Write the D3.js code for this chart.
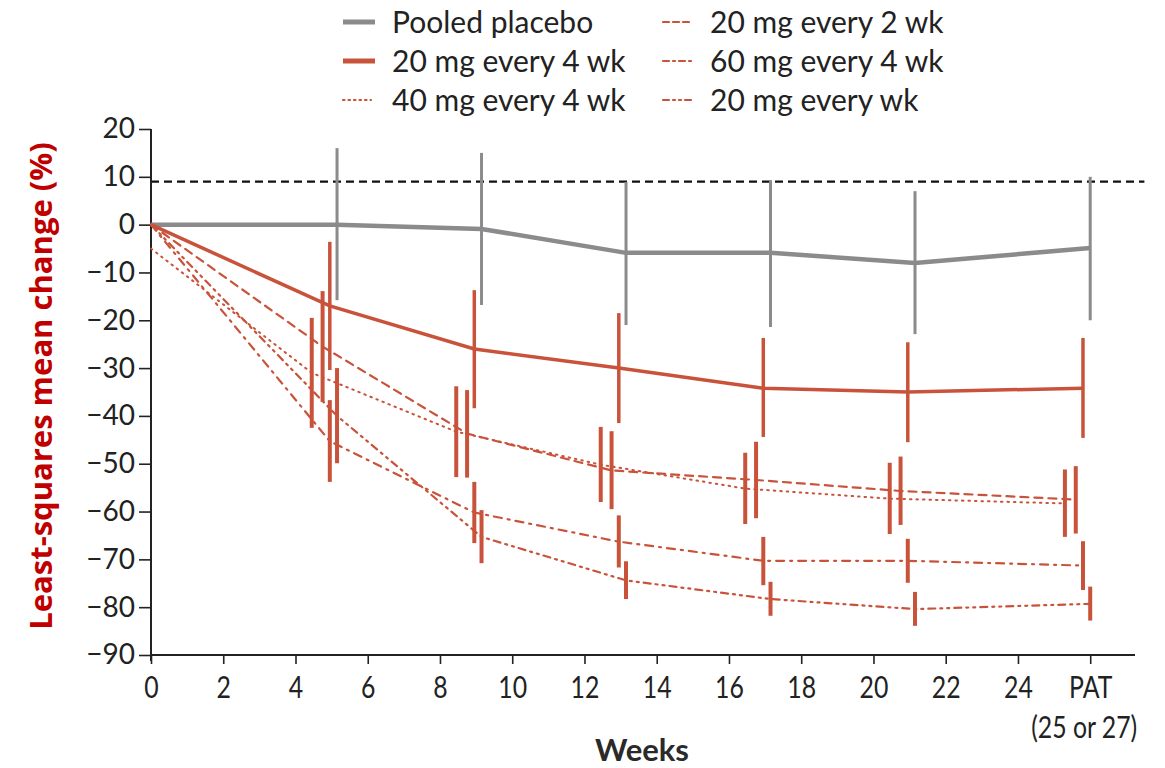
<!DOCTYPE html>
<html>
<head>
<meta charset="utf-8">
<script src="https://cdn.jsdelivr.net/npm/d3@7"></script>
<style>
  body { margin: 0; background: #fff; }
  svg { display: block; }
</style>
</head>
<body>
<svg width="1165" height="768"></svg>
<script>
// visit weeks (PAT plotted just right of week 25)
var weeks = [0, 5, 9, 13, 17, 21, 25.85];
var xTicks = [0, 2, 4, 6, 8, 10, 12, 14, 16, 18, 20, 22, 24, 26];
var xTickLabels = ["0", "2", "4", "6", "8", "10", "12", "14", "16", "18", "20", "22", "24", "PAT"];
var yTicks = [20, 10, 0, -10, -20, -30, -40, -50, -60, -70, -80, -90];
var refLine = 9;

var seriesNames = ["Pooled placebo", "20 mg every 4 wk", "40 mg every 4 wk",
                   "20 mg every 2 wk", "60 mg every 4 wk", "20 mg every wk"];

var placeboMean = [0, 0, -0.9, -5.9, -5.9, -8, -4.9];
var placeboLow  = [null, -15.8, -16.8, -21, -21.4, -22.9, -20];
var placeboHigh = [null, 16, 15, 8.9, 9.3, 7, 10];

var q4w20Mean = [0, -17, -26, -30, -34.2, -35, -34.2];
var q4w20Low  = [null, -30.4, -38.4, -41.5, -44.4, -45.5, -44.6];
var q4w20High = [null, -3.6, -13.7, -18.5, -23.7, -24.6, -23.7];

var q4w40Mean = [-5, -31, -43.3, -50.2, -55.2, -57.3, -58.3];
var q4w40Low  = [null, -42.5, -52.8, -58, -62.6, -64.7, -65.3];
var q4w40High = [null, -19.5, -33.8, -42.3, -47.7, -49.8, -51.2];

var q2w20Mean = [0, -25.5, -43.7, -51.4, -53.4, -55.7, -57.5];
var q2w20Low  = [null, -37.1, -52.9, -59.5, -61.4, -62.8, -64.6];
var q2w20High = [null, -13.9, -34.6, -43.2, -45.4, -48.5, -50.5];

var q4w60Mean = [0, -45.3, -60.2, -66.3, -70.3, -70.3, -71.3];
var q4w60Low  = [null, -53.8, -66.6, -71.7, -75.4, -74.9, -76.4];
var q4w60High = [null, -36.7, -53.8, -60.8, -65.3, -65.7, -66.2];

var qw20Mean = [0, -40, -65.3, -74.4, -78.3, -80.4, -79.3];
var qw20Low  = [null, -49.9, -70.8, -78.3, -81.8, -83.9, -82.8];
var qw20High = [null, -30, -59.7, -70.4, -74.7, -76.8, -75.7];

var red = "#c9533a", grey = "#8b8b8d";

// drawing style per series (dodge in weeks)
var styles = [
  {mean: placeboMean, low: placeboLow, high: placeboHigh, color: grey, width: 4.5, dash: null, dodge: 0.15, barW: 3},
  {mean: q4w20Mean, low: q4w20Low, high: q4w20High, color: red, width: 3.5, dash: null, dodge: -0.05, barW: 3.5},
  {mean: q4w40Mean, low: q4w40Low, high: q4w40High, color: red, width: 2, dash: "1.5,5", dodge: -0.55, barW: 4},
  {mean: q2w20Mean, low: q2w20Low, high: q2w20High, color: red, width: 2.2, dash: "8,6", dodge: -0.25, barW: 4},
  {mean: q4w60Mean, low: q4w60Low, high: q4w60High, color: red, width: 2.2, dash: "8,6,2,6", dodge: -0.05, barW: 4},
  {mean: qw20Mean, low: qw20Low, high: qw20High, color: red, width: 2.2, dash: "7,5,2,5,2,5", dodge: 0.15, barW: 4}
];

var svg = d3.select("svg"),
    margin = {top: 129, right: 30, bottom: 113, left: 151},
    width = 984,
    height = 526,
    g = svg.append("g").attr("transform", "translate(" + margin.left + "," + margin.top + ")");

var x = d3.scaleLinear().domain([0, 27.24]).range([0, width]);
var y = d3.scaleLinear().domain([-90, 20]).range([height, 0]);

// reference dashed line
g.append("line")
    .attr("x1", 0).attr("x2", x(27.5))
    .attr("y1", y(refLine)).attr("y2", y(refLine))
    .attr("stroke", "#111").attr("stroke-width", 2.2)
    .attr("stroke-dasharray", "8,5");

// axes
var narrow = "'Lato', sans-serif";
var xAxis = g.append("g")
    .attr("transform", "translate(0," + height + ")")
    .call(d3.axisBottom(x).tickValues(xTicks).tickSize(9).tickPadding(5)
      .tickFormat(function(d, i) { return xTickLabels[i]; }));
xAxis.select(".domain").attr("d", "M0,0H" + width).attr("stroke", "#222").attr("stroke-width", 2);
xAxis.selectAll(".tick line").attr("stroke", "#222").attr("stroke-width", 1.6);
xAxis.selectAll(".tick text")
    .attr("fill", "#222")
    .attr("dy", "0.95em")
    .attr("transform", "scale(0.8,1)")
    .style("font-family", narrow)
    .style("font-size", "31px");
xAxis.append("text")
    .attr("transform", "translate(" + (x(26) - 6) + ",83) scale(0.8,1)")
    .attr("text-anchor", "middle")
    .attr("fill", "#222")
    .style("font-family", narrow)
    .style("font-size", "31px")
    .text("(25 or 27)");

var yAxis = g.append("g")
    .call(d3.axisLeft(y).tickValues(yTicks).tickSize(12).tickPadding(4)
      .tickFormat(function(d) { return d < 0 ? "\u2212" + Math.abs(d) : d; }));
yAxis.select(".domain").attr("d", "M0,0V" + (height + 6)).attr("stroke", "#222").attr("stroke-width", 2);
yAxis.selectAll(".tick line").attr("stroke", "#222").attr("stroke-width", 1.6);
yAxis.selectAll("text")
    .attr("fill", "#222")
    .style("font-family", "'Lato', sans-serif")
    .style("font-size", "28px");

// lines and error bars
var line = d3.line()
    .x(function(d) { return x(d.w); })
    .y(function(d) { return y(d.v); });

styles.forEach(function(s) {
  var pts = s.mean.map(function(v, i) {
    return {w: i === 0 ? 0 : weeks[i] + s.dodge, v: v, lo: s.low[i], hi: s.high[i]};
  });
  g.append("path")
      .datum(pts)
      .attr("fill", "none")
      .attr("stroke", s.color)
      .attr("stroke-width", s.width)
      .attr("stroke-linecap", s.dash ? "round" : "butt")
      .attr("stroke-dasharray", s.dash)
      .attr("d", line);
  g.selectAll(null)
      .data(pts.filter(function(d) { return d.lo != null; }))
    .enter().append("line")
      .attr("x1", function(d) { return x(d.w); })
      .attr("x2", function(d) { return x(d.w); })
      .attr("y1", function(d) { return y(d.hi); })
      .attr("y2", function(d) { return y(d.lo); })
      .attr("stroke", s.color)
      .attr("stroke-width", s.barW);
});

// legend
var legendPos = [[343, 22], [343, 61], [343, 100], [663, 22], [663, 61], [663, 100]];
styles.forEach(function(s, i) {
  var p = legendPos[i];
  var solid = !s.dash;
  svg.append("line")
      .attr("x1", p[0]).attr("x2", p[0] + (solid ? 32 : 28))
      .attr("y1", p[1]).attr("y2", p[1])
      .attr("stroke", s.color)
      .attr("stroke-width", solid ? 5 : 2.2)
      .attr("stroke-dasharray", solid ? null : (i === 2 ? "1.5,4" : i === 3 ? "6,4" : i === 4 ? "6,4,2,4" : "6,4,2,4,2,4"))
      .attr("stroke-linecap", solid ? "butt" : "round");
  svg.append("text")
      .attr("x", p[0] + (i < 3 ? 49 : 47))
      .attr("y", p[1] + 11)
      .attr("fill", "#222")
      .style("font-family", "'Lato', sans-serif")
      .style("font-size", "30px")
      .text(seriesNames[i]);
});

// axis titles
svg.append("text")
    .attr("x", 642).attr("y", 761)
    .attr("text-anchor", "middle")
    .attr("fill", "#2a2a2a")
    .style("font-family", "'Lato', sans-serif")
    .style("font-weight", "bold")
    .style("font-size", "31px")
    .text("Weeks");

svg.append("text")
    .attr("transform", "translate(52,386) rotate(-90)")
    .attr("text-anchor", "middle")
    .attr("fill", "#c00000")
    .style("font-family", "'Open Sans', sans-serif")
    .style("font-weight", "bold")
    .style("font-size", "31px")
    .text("Least-squares mean change (%)");
</script>
</body>
</html>
